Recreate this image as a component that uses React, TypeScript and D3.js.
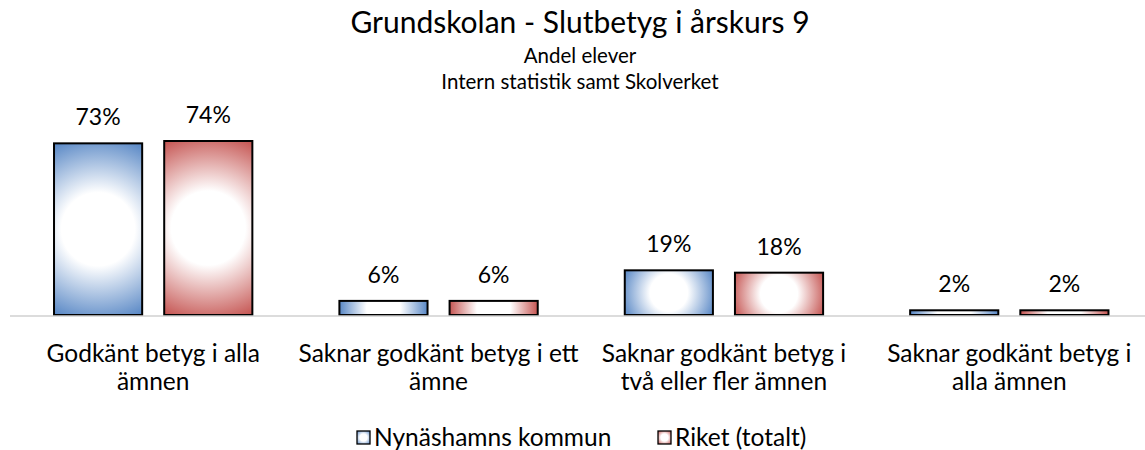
import React from "react";
import * as d3 from "d3";

const categories = [
  "Godkänt betyg i alla\nämnen",
  "Saknar godkänt betyg i ett\nämne",
  "Saknar godkänt betyg i\ntvå eller fler ämnen",
  "Saknar godkänt betyg i\nalla ämnen",
];
const seriesNames = ["Nynäshamns kommun", "Riket (totalt)"];
const nynashamn = [73, 6, 19, 2];
const riket = [74, 6, 18, 2];
const seriesColors = ["#5585c4", "#c4524f"];

const W = 1145;
const H = 450;
const FONT = "Lato, 'Open Sans', sans-serif";

export default function App() {
  const values = [nynashamn, riket];
  const baseY = 315;
  const x0 = d3.scaleBand<number>().domain(d3.range(categories.length)).range([10.5, 1152]);
  const x1 = d3
    .scaleBand<number>()
    .domain([0, 1])
    .range([0, x0.bandwidth()])
    .paddingInner(0.2)
    .paddingOuter(0.395);
  const y = d3.scaleLinear().domain([0, 74]).range([baseY, 141]);

  const bars: any[] = [];
  categories.forEach((c, ci) => {
    values.forEach((vals, si) => {
      const v = vals[ci];
      const bx = x0(ci)! + x1(si)!;
      const by = y(v);
      const bw = x1.bandwidth();
      const bh = baseY - by;
      bars.push({ ci, si, v, bx, by, bw, bh });
    });
  });

  return (
    <svg width={W} height={H} style={{ display: "block", position: "absolute", left: 0, top: 0 }}>
      <defs>
        {bars.map((b) => {
          const r = Math.sqrt((b.bw / 2) ** 2 + (b.bh / 2) ** 2);
          return (
            <radialGradient
              key={`g${b.ci}-${b.si}`}
              id={`g${b.ci}-${b.si}`}
              gradientUnits="userSpaceOnUse"
              cx={b.bx + b.bw / 2}
              cy={b.by + b.bh / 2}
              r={r}
            >
              <stop offset="0" stopColor="#ffffff" />
              <stop offset="0.38" stopColor="#ffffff" />
              <stop offset="1" stopColor={seriesColors[b.si]} />
            </radialGradient>
          );
        })}
        {seriesColors.map((c, i) => (
          <radialGradient key={`lg${i}`} id={`lg${i}`} cx="0.5" cy="0.5" r="0.7">
            <stop offset="0" stopColor="#ffffff" />
            <stop offset="0.4" stopColor="#ffffff" />
            <stop offset="1" stopColor={c} />
          </radialGradient>
        ))}
      </defs>
      <rect x={0} y={0} width={W} height={H} fill="#ffffff" />
      <text x={580} y={33} textAnchor="middle" fontFamily={FONT} fontSize={30} fill="#000">
        Grundskolan - Slutbetyg i årskurs 9
      </text>
      <text x={580} y={63} textAnchor="middle" fontFamily={FONT} fontSize={20.5} fill="#000">
        Andel elever
      </text>
      <text x={580} y={89} textAnchor="middle" fontFamily={FONT} fontSize={20.5} fill="#000">
        Intern statistik samt Skolverket
      </text>

      {bars.map((b) => (
        <g key={`b${b.ci}-${b.si}`}>
          <rect
            x={b.bx}
            y={b.by}
            width={b.bw}
            height={b.bh}
            fill={`url(#g${b.ci}-${b.si})`}
            stroke="#000"
            strokeWidth={2}
          />
          <text
            x={b.bx + b.bw / 2}
            y={b.by - 18}
            textAnchor="middle"
            fontFamily={FONT}
            fontSize={23}
            fill="#000"
          >
            {b.v}%
          </text>
        </g>
      ))}

      <line x1={10} x2={1145} y1={baseY + 1} y2={baseY + 1} stroke="#d0d0d0" strokeWidth={1.5} />

      {categories.map((c, ci) => {
        const cx = x0(ci)! + x0.bandwidth() / 2;
        return c.split("\n").map((line, li) => (
          <text
            key={`c${ci}-${li}`}
            x={cx}
            y={362 + li * 28}
            textAnchor="middle"
            fontFamily={FONT}
            fontSize={24.5}
            fill="#000"
          >
            {line}
          </text>
        ));
      })}

      {seriesNames.map((n, i) => {
        const lx = [357, 658][i];
        return (
          <g key={`l${i}`}>
            <rect x={lx} y={431} width={13} height={13} fill={`url(#lg${i})`} stroke="#000" strokeWidth={1.3} />
            <text x={lx + 17} y={446} fontFamily={FONT} fontSize={24.5} fill="#000">
              {n}
            </text>
          </g>
        );
      })}
    </svg>
  );
}
